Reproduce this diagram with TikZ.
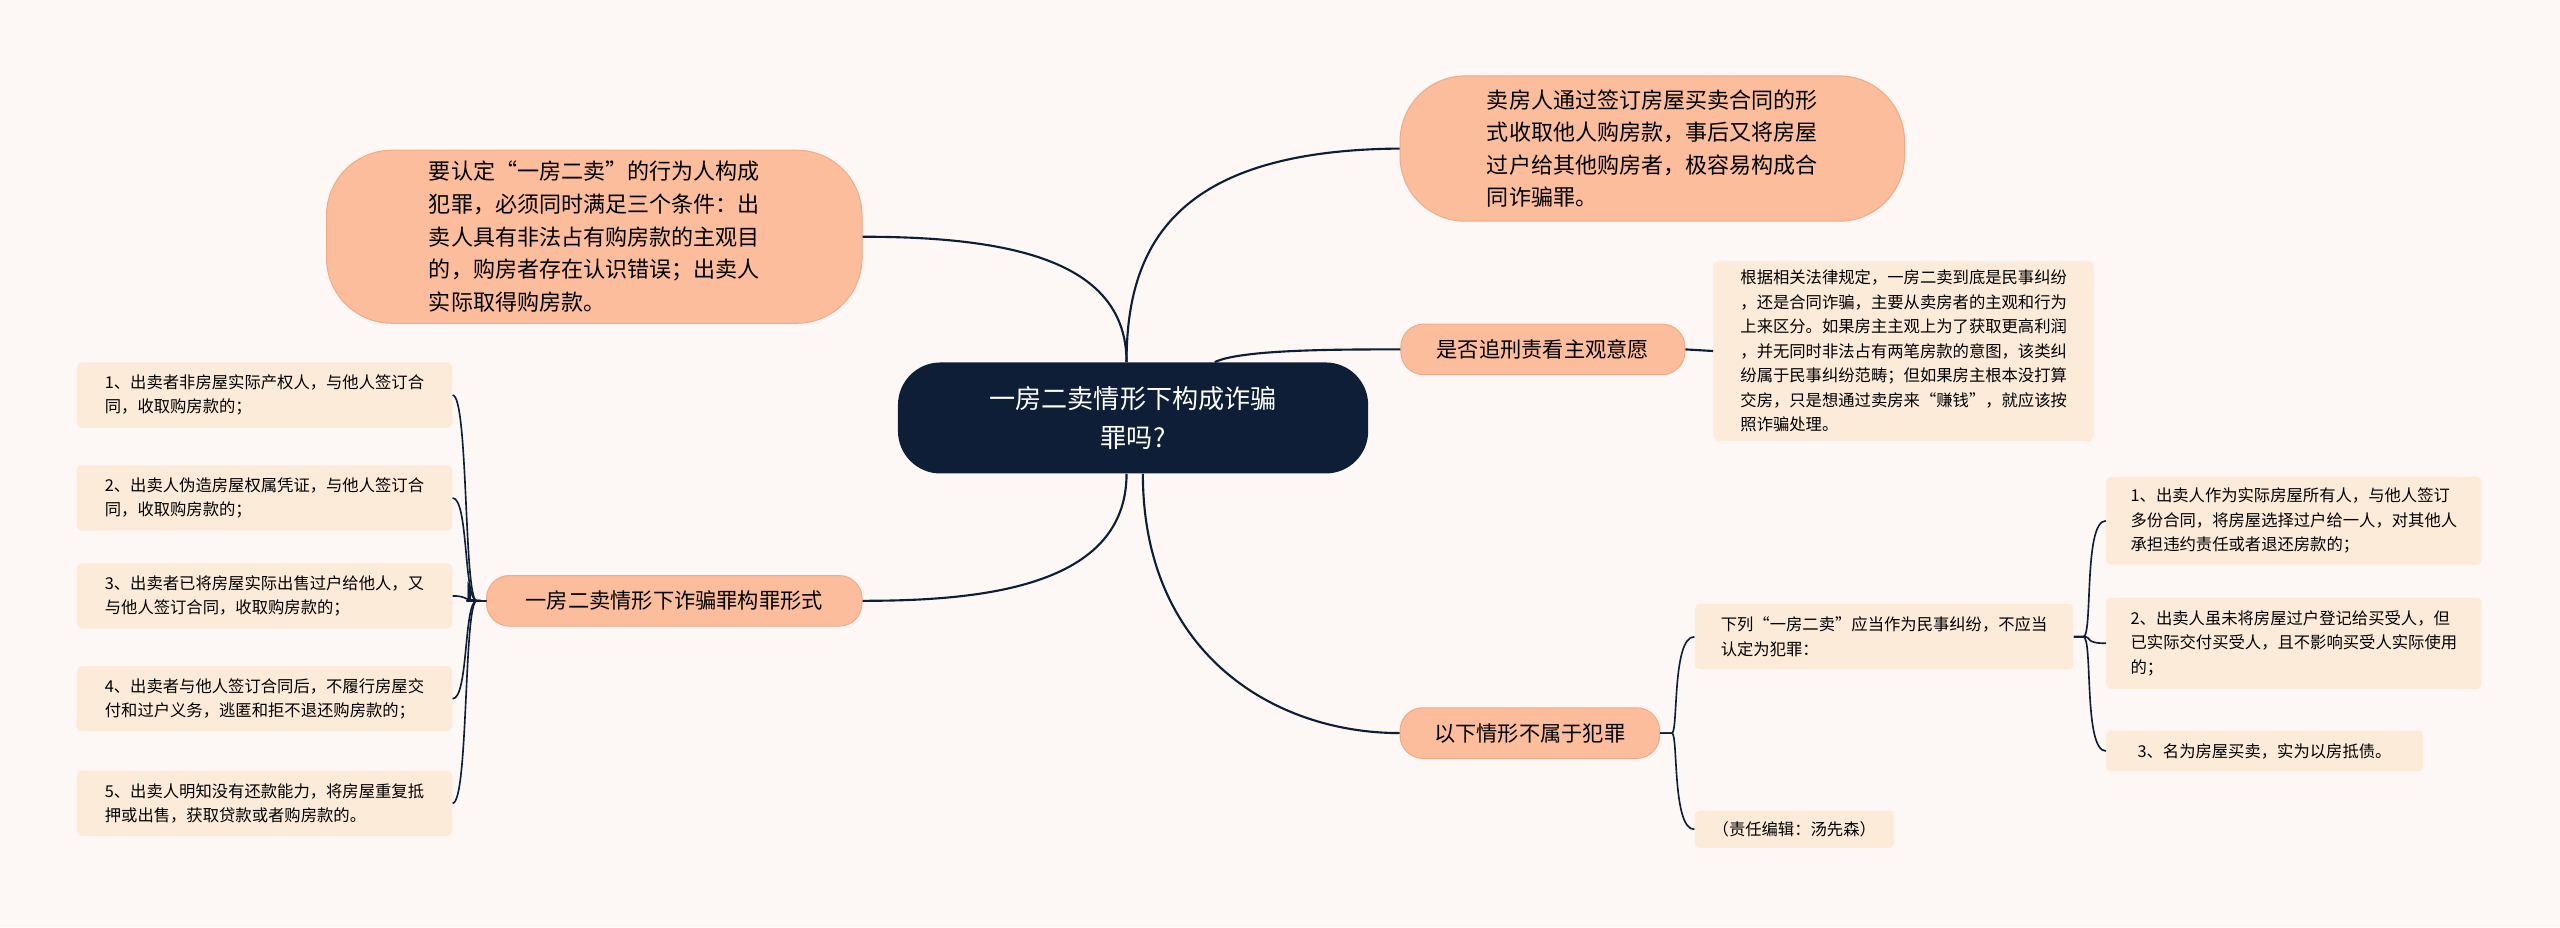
\documentclass[tikz,border=0pt]{standalone}
\usepackage{fontspec}
\setmainfont{Noto Sans CJK SC}
\begin{document}
\begin{tikzpicture}[x=1pt,y=-1pt,
 ln/.style={draw=navy,line width=1.3pt},
 big/.style={fill=peach,draw=peachd,line width=0.6pt,rounded corners=40pt,text=black,font=\fontsize{13.5}{20}\selectfont,inner sep=0pt},
 mid/.style={fill=peach,draw=peachd,line width=0.6pt,rounded corners=14pt,font=\fontsize{13}{16}\selectfont,inner sep=0pt},
 small/.style={fill=light,rounded corners=3pt,font=\fontsize{10}{15}\selectfont,inner sep=0pt,align=left}]
\definecolor{navy}{HTML}{0D1E36}
\definecolor{peach}{HTML}{FBBD9C}
\definecolor{peachd}{HTML}{F2A985}
\definecolor{light}{HTML}{FDEBDA}
\definecolor{bg}{HTML}{FDF8F6}
\fill[bg] (0,0) rectangle (1568,568);
\useasboundingbox (0,0) rectangle (1568,568);
% center
\node[fill=navy,rounded corners=26pt,minimum width=288pt,minimum height=68pt,text=white,align=center,font=\fontsize{16}{24}\selectfont] (c) at (694,256) {一房二卖情形下构成诈骗\\罪吗?};
% main branches
\node[big,minimum width=328pt,minimum height=106pt,align=left] (tl) at (364,145) {要认定“一房二卖”的行为人构成\\犯罪，必须同时满足三个条件：出\\卖人具有非法占有购房款的主观目\\的，购房者存在认识错误；出卖人\\实际取得购房款。};
\node[big,minimum width=309pt,minimum height=89pt,align=left] (tr) at (1012,91) {卖房人通过签订房屋买卖合同的形\\式收取他人购房款，事后又将房屋\\过户给其他购房者，极容易构成合\\同诈骗罪。};
\node[mid,minimum width=174pt,minimum height=31pt] (b2) at (945,214) {是否追刑责看主观意愿};
\node[small,minimum width=233pt,minimum height=110pt] (d2) at (1166,215) {根据相关法律规定，一房二卖到底是民事纠纷\\，还是合同诈骗，主要从卖房者的主观和行为\\上来区分。如果房主主观上为了获取更高利润\\，并无同时非法占有两笔房款的意图，该类纠\\纷属于民事纠纷范畴；但如果房主根本没打算\\交房，只是想通过卖房来“赚钱”，就应该按\\照诈骗处理。};
\node[mid,minimum width=230pt,minimum height=31pt] (b3) at (413,368) {一房二卖情形下诈骗罪构罪形式};
\node[mid,minimum width=159pt,minimum height=31pt] (b4) at (937,449) {以下情形不属于犯罪};
% left items
\node[small,minimum width=230pt,minimum height=40pt] (l1) at (162,242) {1、出卖者非房屋实际产权人，与他人签订合\\同，收取购房款的；};
\node[small,minimum width=230pt,minimum height=40pt] (l2) at (162,305) {2、出卖人伪造房屋权属凭证，与他人签订合\\同，收取购房款的；};
\node[small,minimum width=230pt,minimum height=40pt] (l3) at (162,365) {3、出卖者已将房屋实际出售过户给他人，又\\与他人签订合同，收取购房款的；};
\node[small,minimum width=230pt,minimum height=40pt] (l4) at (162,428) {4、出卖者与他人签订合同后，不履行房屋交\\付和过户义务，逃匿和拒不退还购房款的；};
\node[small,minimum width=230pt,minimum height=40pt] (l5) at (162,492) {5、出卖人明知没有还款能力，将房屋重复抵\\押或出售，获取贷款或者购房款的。};
% right
\node[small,minimum width=232pt,minimum height=40pt] (r0) at (1154,390) {下列“一房二卖”应当作为民事纠纷，不应当\\认定为犯罪：};
\node[small,minimum width=122pt,minimum height=23pt] (r9) at (1099,508) {（责任编辑：汤先森）};
\node[small,minimum width=230pt,minimum height=54pt] (s1) at (1405,319) {1、出卖人作为实际房屋所有人，与他人签订\\多份合同，将房屋选择过户给一人，对其他人\\承担违约责任或者退还房款的；};
\node[small,minimum width=230pt,minimum height=56pt] (s2) at (1405,394) {2、出卖人虽未将房屋过户登记给买受人，但\\已实际交付买受人，且不影响买受人实际使用\\的；};
\node[small,minimum width=194pt,minimum height=25pt] (s3) at (1387,460) {3、名为房屋买卖，实为以房抵债。};
% connectors
\draw[ln] ([xshift=-4]c.north) .. controls (690,150) and (720,92) .. (tr.west);
\draw[ln] ([xshift=50]c.north) .. controls (760,214) and (820,214) .. (b2.west);
\draw[ln] (b2.east) -- (d2.west);
\draw[ln] ([xshift=-4]c.north) .. controls (690,160) and (620,145) .. (tl.east);
\draw[ln] ([xshift=-4]c.south) .. controls (690,360) and (600,368) .. (b3.east);
\draw[ln] ([xshift=6]c.south) .. controls (700,400) and (780,449) .. (b4.west);
\foreach \n in {l1,l2,l3,l4,l5}
 \draw[ln,line width=1pt] (b3.west) .. controls (283,368) and (290,368) .. (287,360) -- (287,368) (b3.west) -- (290,368) .. controls (284,368) and (286,{368}) .. (286,368);
\foreach \n in {l1,l2,l3,l4,l5}
 \draw[ln,line width=1pt] (b3.west) -- (292,368) .. controls (284,368) and (287,0|-\n.east) .. (\n.east);
\foreach \n in {r0,r9}
 \draw[ln,line width=1pt] (b4.east) -- (1024,449) .. controls (1028,449) and (1024,0|-\n.west) .. (\n.west);
\foreach \n in {s1,s2,s3}
 \draw[ln,line width=1pt] (r0.east) -- (1276,390) .. controls (1282,390) and (1276,0|-\n.west) .. (\n.west);
\end{tikzpicture}
\end{document}
